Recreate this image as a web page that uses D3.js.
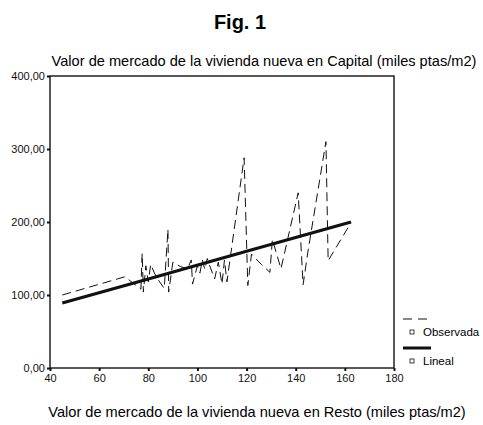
<!DOCTYPE html>
<html>
<head>
<meta charset="utf-8">
<script src="https://cdn.jsdelivr.net/npm/d3@7"></script>
<style>
  body { margin: 0; background: #fff; }
  svg { font-family: 'Liberation Sans', Arial, sans-serif; }
</style>
</head>
<body>
<svg id="chart"></svg>
<script>
// observed series (x = Resto, y = Capital)
const obsX = [45, 70.5, 77, 77.5, 78, 79, 80, 81, 82.5, 84, 86.5, 88, 88.3, 90, 93, 96, 97.5, 98,
  100, 101, 102, 103, 104, 105, 107, 108.5, 110, 111, 112, 119, 120.5, 122, 126, 129.5, 130.5,
  134, 141, 143, 145, 152.3, 153.2, 162.5];
const obsY = [100, 125, 108, 157, 104, 140, 118, 142, 130, 121, 109, 190, 104, 145, 139, 136, 148, 115,
  140, 130, 148, 135, 150, 140, 122, 145, 115, 148, 118, 288, 113, 156, 142, 131, 176,
  136, 240, 114, 160, 310, 147, 199];
// linear fit
const linX = [45, 80, 120, 162.5];
const linY = [89, 122, 160, 200];

const xTicks = [40, 60, 80, 100, 120, 140, 160, 180];
const yTicks = [0, 100, 200, 300, 400];

const width = 483, height = 425;
const margin = { top: 76, right: 89, bottom: 57, left: 50 };

const svg = d3.select('#chart')
  .attr('width', width)
  .attr('height', height);

const x = d3.scaleLinear().domain([40, 180]).range([margin.left, width - margin.right]);
const y = d3.scaleLinear().domain([0, 400]).range([height - margin.bottom, margin.top]);
const fmt = d => d3.format('.2f')(d).replace('.', ',');

svg.append('text')
  .attr('x', 240)
  .attr('y', 29)
  .attr('text-anchor', 'middle')
  .attr('font-weight', 'bold')
  .attr('font-size', 20)
  .text('Fig. 1');

svg.append('text')
  .attr('x', 264)
  .attr('y', 66)
  .attr('text-anchor', 'middle')
  .attr('font-size', 14.6)
  .text('Valor de mercado de la vivienda nueva en Capital (miles ptas/m2)');

svg.append('text')
  .attr('x', 257)
  .attr('y', 417)
  .attr('text-anchor', 'middle')
  .attr('font-size', 14.6)
  .text('Valor de mercado de la vivienda nueva en Resto (miles ptas/m2)');

// frame
svg.append('rect')
  .attr('x', x(40))
  .attr('y', y(400))
  .attr('width', x(180) - x(40))
  .attr('height', y(0) - y(400))
  .attr('fill', 'none')
  .attr('stroke', '#222')
  .attr('stroke-width', 1.5);

const xAxis = svg.append('g')
  .attr('transform', `translate(0,${y(0)})`)
  .call(d3.axisBottom(x).tickValues(xTicks).tickSize(3).tickPadding(3).tickFormat(d3.format('d')));
const yAxis = svg.append('g')
  .attr('transform', `translate(${x(40)},0)`)
  .call(d3.axisLeft(y).tickValues(yTicks).tickSize(3).tickPadding(2).tickFormat(fmt));

[xAxis, yAxis].forEach(a => {
  a.select('.domain').remove();
  a.selectAll('line').attr('stroke', '#111').attr('stroke-width', 2);
  a.selectAll('text').attr('font-size', 11).attr('fill', '#111')
    .attr('font-family', "'Liberation Sans', Arial, sans-serif");
});

const line = d3.line().x(d => x(d[0])).y(d => y(d[1]));

svg.append('path')
  .datum(obsX.map((v, i) => [v, obsY[i]]))
  .attr('d', line)
  .attr('fill', 'none')
  .attr('stroke', '#111')
  .attr('stroke-width', 1)
  .attr('stroke-dasharray', '9,5');

svg.append('path')
  .datum(linX.map((v, i) => [v, linY[i]]))
  .attr('d', line)
  .attr('fill', 'none')
  .attr('stroke', '#111')
  .attr('stroke-width', 3.2);

// legend
const legend = svg.append('g').attr('transform', 'translate(403,319)');
const items = [
  { name: 'Observada', dash: '9,6', w: 1 },
  { name: 'Lineal', dash: null, w: 3 }
];
const li = legend.selectAll('g')
  .data(items)
  .enter()
  .append('g')
  .attr('transform', (d, i) => `translate(0,${i * 29})`);
li.append('line')
  .attr('x1', 0).attr('x2', 28)
  .attr('y1', 0).attr('y2', 0)
  .attr('stroke', '#111')
  .attr('stroke-width', d => d.w)
  .attr('stroke-dasharray', d => d.dash);
li.append('rect')
  .attr('x', 7).attr('y', 11)
  .attr('width', 4).attr('height', 4)
  .attr('fill', 'none')
  .attr('stroke', '#111')
  .attr('stroke-width', 0.8);
li.append('text')
  .attr('x', 20)
  .attr('y', 17)
  .attr('font-size', 11.5)
  .text(d => d.name);
</script>
</body>
</html>
